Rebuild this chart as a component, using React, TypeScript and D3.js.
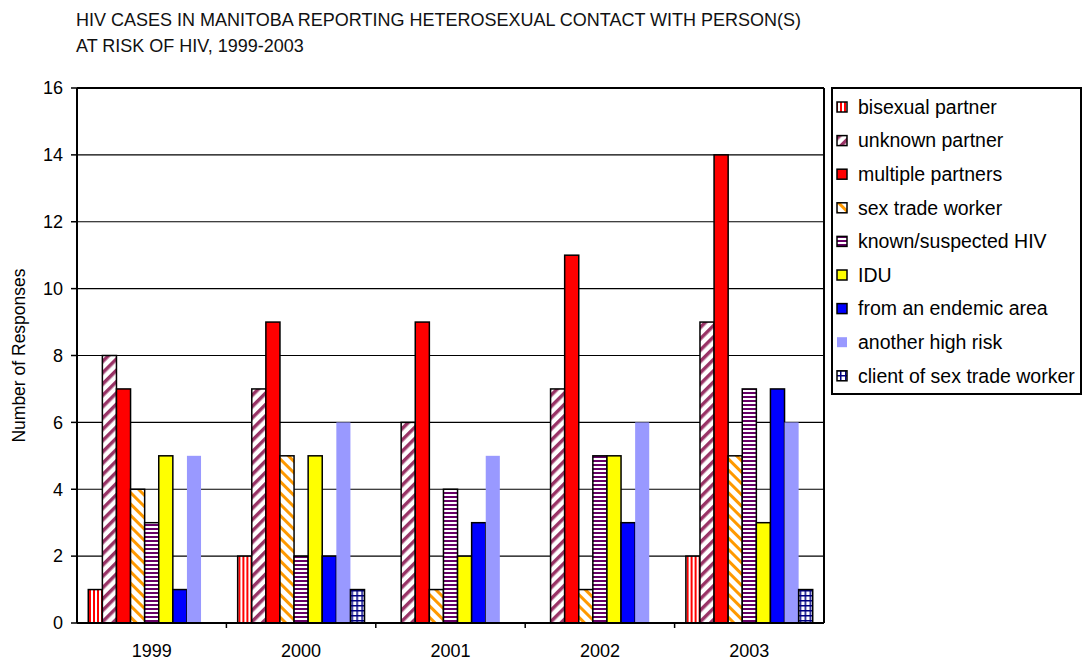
import React from 'react';
import * as d3 from 'd3';

const years = ['1999', '2000', '2001', '2002', '2003'];
const seriesNames = [
  'bisexual partner',
  'unknown partner',
  'multiple partners',
  'sex trade worker',
  'known/suspected HIV',
  'IDU',
  'from an endemic area',
  'another high risk',
  'client of sex trade worker',
];
// values per series, one per year
const bisexual = [1, 2, 0, 0, 2];
const unknown = [8, 7, 6, 7, 9];
const multiple = [7, 9, 9, 11, 14];
const sexTrade = [4, 5, 1, 1, 5];
const knownHiv = [3, 2, 4, 5, 7];
const idu = [5, 5, 2, 5, 3];
const endemic = [1, 2, 3, 3, 7];
const anotherRisk = [5, 6, 5, 6, 6];
const client = [0, 1, 0, 0, 1];
const seriesValues = [bisexual, unknown, multiple, sexTrade, knownHiv, idu, endemic, anotherRisk, client];
const yTicks = [0, 2, 4, 6, 8, 10, 12, 14, 16];

const fills = [
  'url(#pBi)',
  'url(#pUnk)',
  '#FF0000',
  'url(#pSex)',
  'url(#pKnown)',
  '#FFFF00',
  '#0000FF',
  '#9999FF',
  'url(#pClient)',
];
const bordered = [true, true, true, true, true, true, true, false, true];

const font = 'Liberation Sans, Arial, sans-serif';

const App: React.FC = () => {
  const W = 1083;
  const H = 662;
  const left = 77;
  const right = 824;
  const top = 88;
  const bottom = 623;

  const x0 = d3.scaleBand().domain(years).range([left, right]).padding(0);
  const x1 = d3
    .scaleBand()
    .domain(seriesNames)
    .range([0, x0.bandwidth()])
    .paddingInner(0)
    .paddingOuter(0.8);
  const y = d3.scaleLinear().domain([0, 16]).range([bottom, top]);

  const legendX = 832;
  const legendY = 88;
  const legendStep = 33.6;

  return (
    <svg width={W} height={H} style={{ position: 'absolute', left: 0, top: 0, background: '#fff' }}>
      <defs>
        <pattern id="pBi" width="4" height="4" patternUnits="userSpaceOnUse">
          <rect width="4" height="4" fill="#fff" />
          <rect x="0" width="2" height="4" fill="#FF0000" />
        </pattern>
        <pattern id="pUnk" width="8" height="8" patternUnits="userSpaceOnUse" patternTransform="rotate(45)">
          <rect width="8" height="8" fill="#fff" />
          <rect x="0" width="3.5" height="8" fill="#993366" />
        </pattern>
        <pattern id="pSex" width="8" height="8" patternUnits="userSpaceOnUse" patternTransform="rotate(-45)">
          <rect width="8" height="8" fill="#fff" />
          <rect x="0" width="3" height="8" fill="#FF9900" />
        </pattern>
        <pattern id="pKnown" width="4" height="4" patternUnits="userSpaceOnUse">
          <rect width="4" height="4" fill="#fff" />
          <rect y="0" width="4" height="2" fill="#660066" />
        </pattern>
        <pattern id="pClient" width="5" height="5" patternUnits="userSpaceOnUse">
          <rect width="5" height="5" fill="#fff" />
          <rect x="0" width="1.5" height="5" fill="#000080" />
          <rect y="0" width="5" height="1.5" fill="#000080" />
        </pattern>
      </defs>

      {/* title */}
      <text x={76} y={26} fontFamily={font} fontSize={18} fill="#111">
        HIV CASES IN MANITOBA REPORTING HETEROSEXUAL CONTACT WITH PERSON(S)
      </text>
      <text x={76} y={52} fontFamily={font} fontSize={18} fill="#111">
        AT RISK OF HIV, 1999-2003
      </text>

      {/* gridlines */}
      {yTicks.map((t) => (
        <g key={t}>
          <line x1={left} x2={right} y1={y(t)} y2={y(t)} stroke="#000" strokeWidth={t === 0 || t === 16 ? 2 : 1.2} />
          <line x1={left - 6} x2={left} y1={y(t)} y2={y(t)} stroke="#000" strokeWidth={1.5} />
          <text x={63} y={y(t)} dy="0.35em" textAnchor="end" fontFamily={font} fontSize={18} fill="#000">
            {t}
          </text>
        </g>
      ))}

      {/* bars */}
      {years.map((yr, yi) => (
        <g key={yr} transform={`translate(${x0(yr)},0)`}>
          {seriesNames.map((s, si) => {
            const v = seriesValues[si][yi];
            if (!v) return null;
            return (
              <rect
                key={s}
                x={x1(s)!}
                y={y(v)}
                width={x1.bandwidth()}
                height={y(0) - y(v)}
                fill={fills[si]}
                stroke={bordered[si] ? '#000' : 'none'}
                strokeWidth={1.5}
              />
            );
          })}
        </g>
      ))}

      {/* axes frame */}
      <line x1={left} x2={left} y1={top} y2={bottom} stroke="#000" strokeWidth={2} />
      <line x1={right} x2={right} y1={top} y2={bottom} stroke="#000" strokeWidth={2} />
      <line x1={left} x2={right} y1={bottom} y2={bottom} stroke="#000" strokeWidth={2} />
      {years.map((yr, i) => (
        <g key={yr}>
          {i > 0 && (
            <line x1={x0(yr)!} x2={x0(yr)!} y1={bottom} y2={bottom + 5} stroke="#000" strokeWidth={1.5} />
          )}
          <text
            x={x0(yr)! + x0.bandwidth() / 2}
            y={657}
            textAnchor="middle"
            fontFamily={font}
            fontSize={18}
            fill="#000"
          >
            {yr}
          </text>
        </g>
      ))}

      {/* y label */}
      <text
        transform={`translate(25,${(top + bottom) / 2}) rotate(-90)`}
        textAnchor="middle"
        fontFamily={font}
        fontSize={17.5}
        fill="#000"
      >
        Number of Responses
      </text>

      {/* legend */}
      <rect x={legendX} y={legendY} width={249} height={306} fill="#fff" stroke="#000" strokeWidth={2} />
      {seriesNames.map((s, i) => {
        const cy = legendY + 19 + i * legendStep;
        return (
          <g key={s}>
            <rect
              x={legendX + 5}
              y={cy - 5}
              width={10}
              height={10}
              fill={fills[i]}
              stroke={bordered[i] ? '#000' : 'none'}
              strokeWidth={1.5}
            />
            <text x={legendX + 26} y={cy} dy="0.35em" fontFamily={font} fontSize={19.5} fill="#000">
              {s}
            </text>
          </g>
        );
      })}
    </svg>
  );
};

export default App;
